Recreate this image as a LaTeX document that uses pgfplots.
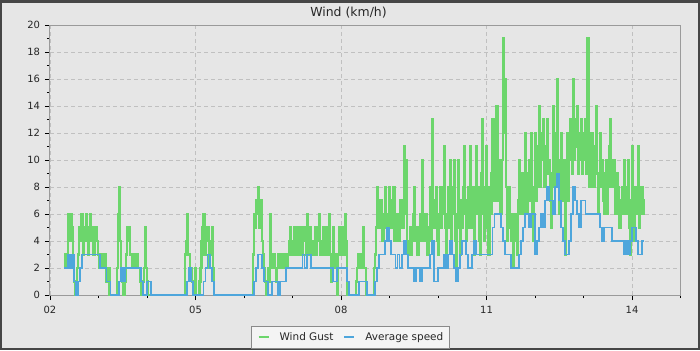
\documentclass[border=0pt]{standalone}
\usepackage{pgfplots}
\pgfplotsset{compat=1.18}
\usepackage{pgfplotstable}
\usepackage{fontspec}
\setmainfont{DejaVu Sans}
\definecolor{bgc}{HTML}{E6E6E6}
\definecolor{framec}{HTML}{464646}
\definecolor{gustc}{HTML}{6CD66C}
\definecolor{avgc}{HTML}{4EA6DC}
\definecolor{gridc}{HTML}{C0C0C0}
\definecolor{axc}{HTML}{9A9A9A}
\definecolor{lgfill}{HTML}{F4F4F4}
\definecolor{lgdraw}{HTML}{8A8A8A}

% wind gust (km/h), half-hourly from day 2.29
\pgfplotstableread[row sep=\\]{
g\\
2\\3\\3\\2\\6\\4\\4\\6\\5\\2\\1\\0\\0\\2\\3\\5\\4\\6\\6\\3\\
4\\5\\6\\4\\3\\5\\6\\4\\5\\3\\3\\5\\5\\4\\3\\2\\3\\2\\2\\3\\
3\\2\\1\\2\\2\\0\\0\\0\\0\\0\\0\\0\\2\\6\\8\\4\\2\\1\\0\\0\\
1\\3\\5\\4\\5\\3\\3\\2\\2\\3\\3\\2\\3\\2\\2\\1\\0\\0\\1\\2\\
5\\2\\1\\0\\0\\0\\0\\0\\0\\0\\0\\0\\0\\0\\0\\0\\0\\0\\0\\0\\
0\\0\\0\\0\\0\\0\\0\\0\\0\\0\\0\\0\\0\\0\\0\\0\\0\\0\\0\\0\\
3\\4\\6\\3\\3\\2\\2\\1\\1\\0\\2\\0\\0\\0\\1\\2\\4\\5\\6\\3\\
4\\5\\5\\2\\3\\4\\5\\2\\0\\0\\0\\0\\0\\0\\0\\0\\0\\0\\0\\0\\
0\\0\\0\\0\\0\\0\\0\\0\\0\\0\\0\\0\\0\\0\\0\\0\\0\\0\\0\\0\\
0\\0\\0\\0\\0\\0\\0\\3\\6\\5\\7\\6\\8\\5\\6\\7\\4\\3\\2\\1\\
0\\1\\2\\1\\6\\2\\2\\3\\3\\2\\1\\2\\3\\2\\2\\3\\3\\2\\2\\3\\
3\\2\\3\\4\\5\\3\\3\\4\\5\\3\\4\\5\\3\\4\\5\\3\\4\\5\\5\\3\\
6\\4\\3\\5\\4\\3\\3\\4\\5\\3\\4\\5\\6\\3\\3\\4\\5\\3\\3\\5\\
4\\3\\6\\3\\1\\3\\5\\2\\2\\3\\0\\3\\5\\3\\3\\5\\4\\3\\6\\4\\
0\\0\\0\\0\\0\\0\\0\\0\\0\\1\\2\\3\\3\\2\\2\\3\\5\\2\\2\\0\\
0\\0\\0\\0\\0\\0\\0\\2\\3\\5\\8\\5\\5\\7\\7\\4\\4\\6\\8\\5\\
6\\4\\8\\5\\5\\7\\8\\4\\4\\6\\6\\4\\5\\7\\6\\5\\11\\6\\10\\4\\
3\\4\\5\\3\\4\\6\\8\\4\\5\\3\\3\\5\\6\\4\\10\\5\\4\\6\\6\\3\\
3\\5\\8\\4\\13\\6\\5\\7\\8\\4\\3\\6\\8\\5\\6\\8\\11\\5\\3\\6\\
8\\5\\10\\4\\6\\8\\10\\4\\2\\6\\10\\5\\3\\7\\5\\8\\11\\6\\4\\7\\
8\\5\\11\\6\\5\\8\\3\\7\\11\\6\\8\\4\\3\\9\\13\\6\\4\\8\\11\\5\\
3\\8\\6\\9\\13\\7\\8\\11\\14\\7\\10\\6\\6\\10\\19\\12\\16\\8\\4\\7\\
8\\5\\4\\6\\2\\5\\6\\4\\3\\7\\10\\6\\6\\9\\9\\6\\12\\7\\6\\9\\
10\\7\\12\\6\\4\\8\\12\\7\\8\\11\\14\\8\\10\\12\\13\\8\\8\\11\\13\\9\\
10\\7\\5\\9\\14\\8\\8\\12\\16\\9\\6\\10\\12\\7\\7\\10\\3\\8\\12\\7\\
10\\13\\12\\9\\16\\10\\11\\13\\14\\9\\10\\12\\13\\9\\10\\12\\13\\9\\19\\10\\
8\\11\\12\\8\\8\\11\\14\\9\\6\\9\\12\\8\\10\\7\\6\\9\\10\\6\\8\\11\\
13\\8\\8\\10\\10\\6\\6\\9\\8\\5\\5\\7\\8\\6\\10\\6\\6\\8\\10\\5\\
3\\7\\11\\5\\4\\8\\8\\6\\11\\5\\6\\8\\8\\6\\7\\7\\
}\gusttab

% average speed (km/h), hourly from day 2.29
\pgfplotstableread[row sep=\\]{
a\\
2\\2\\3\\2\\3\\1\\0\\1\\2\\3\\
3\\3\\3\\3\\3\\3\\3\\3\\2\\2\\
2\\1\\1\\0\\0\\0\\0\\1\\2\\1\\
2\\2\\2\\2\\2\\2\\2\\2\\1\\0\\
0\\1\\1\\0\\0\\0\\0\\0\\0\\0\\
0\\0\\0\\0\\0\\0\\0\\0\\0\\0\\
0\\1\\2\\1\\0\\0\\0\\0\\0\\1\\
2\\3\\2\\1\\0\\0\\0\\0\\0\\0\\
0\\0\\0\\0\\0\\0\\0\\0\\0\\0\\
0\\0\\0\\0\\1\\2\\3\\3\\2\\1\\
1\\0\\0\\1\\1\\1\\0\\1\\1\\1\\
2\\2\\2\\2\\2\\2\\2\\2\\3\\2\\
3\\3\\2\\2\\2\\2\\2\\2\\2\\2\\
2\\2\\2\\1\\1\\2\\2\\2\\2\\2\\
1\\0\\0\\0\\0\\0\\1\\1\\1\\1\\
0\\0\\0\\0\\1\\2\\3\\3\\3\\4\\
5\\4\\3\\3\\2\\3\\2\\3\\4\\3\\
2\\2\\2\\1\\2\\2\\1\\2\\2\\2\\
2\\3\\4\\1\\1\\2\\2\\2\\3\\2\\
3\\4\\3\\2\\1\\2\\3\\4\\4\\3\\
2\\2\\3\\4\\3\\3\\3\\3\\3\\3\\
3\\3\\5\\6\\6\\6\\5\\4\\3\\3\\
3\\2\\2\\2\\2\\3\\4\\5\\6\\6\\
5\\6\\6\\3\\4\\5\\6\\5\\7\\8\\
7\\7\\6\\8\\9\\7\\5\\4\\3\\3\\
4\\6\\8\\7\\6\\5\\7\\7\\6\\6\\
6\\6\\6\\6\\6\\5\\4\\5\\5\\5\\
5\\4\\4\\4\\4\\4\\4\\3\\4\\3\\
4\\5\\5\\4\\3\\3\\4\\4\\
}\avgtab

\begin{document}
\begin{tikzpicture}[x=1bp,y=1bp]
\useasboundingbox (-50,-55) rectangle (650,295);
\fill[framec] (-50,-55) rectangle (650,295);
\fill[bgc] (-47.5,-52.5) rectangle (647.5,292.5);
\begin{axis}[
  at={(0,0)}, anchor=south west,
  scale only axis, width=630.5bp, height=270bp,
  xmin=2, xmax=15, ymin=0, ymax=20,
  clip=false,
  xtick={2,5,8,11,14}, xticklabels={02,05,08,11,14},
  minor xtick={3,4,6,7,9,10,12,13,15},
  ytick={0,2,...,20},
  minor ytick={1,3,...,19},
  xtick pos=bottom, ytick pos=left,
  tick align=outside,
  major tick length=5bp, minor tick length=3bp,
  every tick/.style={black, line width=0.9bp},
  axis line style={draw=axc, line width=1bp},
  grid=major,
  major grid style={gridc, line width=0.8bp, dash pattern=on 4bp off 3bp},
  /pgf/number format/assume math mode=true,
  tick label style={font=\fontsize{10}{12}\selectfont, text=black!85},
  xticklabel style={yshift=-3bp},
  yticklabel style={xshift=-1.5bp},
  legend style={at={(0.4766,-0.1137)}, anchor=north,
    draw=lgdraw, fill=lgfill, line width=0.8bp,
    font=\fontsize{10.5}{12}\selectfont,
    inner xsep=6bp, inner ysep=6.5bp,
    column sep=10bp,
    nodes={inner sep=0bp, text=black!85}},
  legend columns=2,
]
\addplot[const plot, color=gustc, line width=2.1bp, mark=none,
  legend image code/.code={\draw[draw=gustc, line width=1.9bp, fill=none] (0bp,0bp) -- (10bp,0bp);}]
  table[x expr=2.29+\coordindex/48, y=g] {\gusttab};
\addlegendentry{Wind Gust\hspace{8bp}}
\addplot[const plot, color=avgc, line width=1.9bp, mark=none,
  legend image code/.code={\draw[draw=avgc, line width=1.9bp, fill=none] (0bp,0bp) -- (10bp,0bp);}]
  table[x expr=2.29+\coordindex/24, y=a] {\avgtab};
\addlegendentry{Average speed\hspace{6bp}}
\end{axis}
\node[anchor=base, font=\fontsize{12.5}{14}\selectfont, text=black!85] at (298.5,279) {Wind (km/h)};
\end{tikzpicture}
\end{document}
